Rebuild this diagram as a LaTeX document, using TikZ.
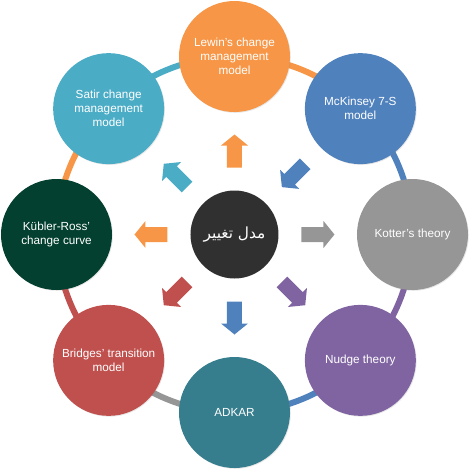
\documentclass[tikz,border=0pt]{standalone}
\usepackage{fontspec}
\setmainfont{Liberation Sans}
\newfontfamily\arabicfont[Script=Arabic]{DejaVu Sans}
\TeXXeTstate=1
\usetikzlibrary{backgrounds,shadows}

\definecolor{lewinorange}{HTML}{F79646}
\definecolor{mckblue}{HTML}{4F81BD}
\definecolor{kottergray}{HTML}{969696}
\definecolor{nudgepurple}{HTML}{8064A2}
\definecolor{adkarteal}{HTML}{367E8E}
\definecolor{bridgesred}{HTML}{C0504D}
\definecolor{kublergreen}{HTML}{03402F}
\definecolor{satircyan}{HTML}{4BACC6}
\definecolor{hubgray}{HTML}{303030}

\tikzset{
  model/.style={circle, fill=#1, minimum size=83.25pt, inner sep=0pt,
    text=white, align=center, font=\fontsize{8.8}{10.5}\selectfont,
    drop shadow={shadow xshift=0.6pt, shadow yshift=-0.6pt, opacity=0.2}},
  hub/.style={circle, fill=hubgray, minimum size=66pt, inner sep=0pt,
    text=white, font=\arabicfont\fontsize{11.5}{14}\selectfont},
  ringseg/.style={draw=#1, line width=4.5pt, bend left=22.5, looseness=0.885},
}

\begin{document}
\begin{tikzpicture}[x=0.75pt, y=0.75pt]
  \useasboundingbox (-234.5,-234.5) rectangle (234.5,234.5);
  % Models round the ring
  \node[model=lewinorange] (lewin) at (90:178) {Lewin's change\\management\\model};
  \node[model=mckblue] (mckinsey) at (45:178) {McKinsey 7-S\\model};
  \node[model=kottergray] (kotter) at (0:178) {Kotter's theory};
  \node[model=nudgepurple] (nudge) at (-45:178) {Nudge theory};
  \node[model=adkarteal] (adkar) at (-90:178) {ADKAR};
  \node[model=bridgesred] (bridges) at (-135:178) {Bridges' transition\\model};
  \node[model=kublergreen] (kubler) at (180:178) {Kübler-Ross'\\change curve};
  \node[model=satircyan] (satir) at (135:178) {Satir change\\management\\model};
  % Centre
  \node[hub] (hub) at (0,0) {\beginR مدل تغییر\endR};
  % Ring pieces behind the circles
  \begin{scope}[on background layer]
    \draw[ringseg=lewinorange] (lewin.center) to (mckinsey.center);
    \draw[ringseg=mckblue] (mckinsey.center) to (kotter.center);
    \draw[ringseg=nudgepurple] (kotter.center) to (nudge.center);
    \draw[ringseg=mckblue] (nudge.center) to (adkar.center);
    \draw[ringseg=kottergray] (adkar.center) to (bridges.center);
    \draw[ringseg=bridgesred] (bridges.center) to (kubler.center);
    \draw[ringseg=lewinorange] (kubler.center) to (satir.center);
    \draw[ringseg=satircyan] (satir.center) to (lewin.center);
  \end{scope}
  % Block arrows
  \foreach \ang/\col in {90/lewinorange, 0/kottergray, -45/nudgepurple, -90/mckblue,
      -135/bridgesred, 180/lewinorange, 135/satircyan}
    \fill[\col, rotate=\ang] (67,-7.5) -- (89,-7.5) -- (89,-13.5) -- (100,0)
      -- (89,13.5) -- (89,7.5) -- (67,7.5) -- cycle;
  \fill[mckblue, rotate=45] (100,-7.5) -- (78,-7.5) -- (78,-13.5) -- (67,0)
    -- (78,13.5) -- (78,7.5) -- (100,7.5) -- cycle;
\end{tikzpicture}
\end{document}
